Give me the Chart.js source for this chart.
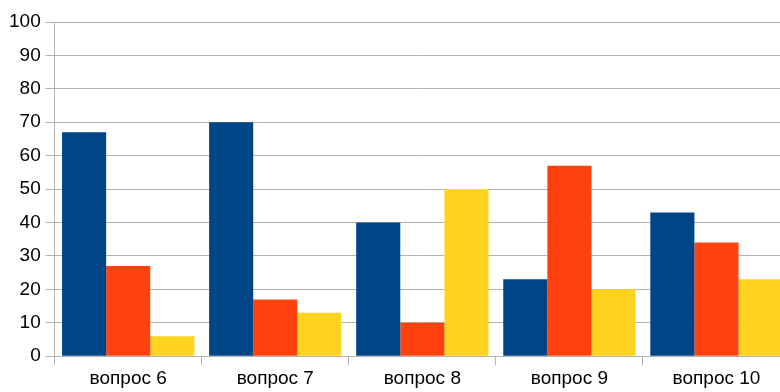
<!DOCTYPE html>
<html>
<head>
<meta charset="utf-8">
<script src="https://cdn.jsdelivr.net/npm/chart.js@4/dist/chart.umd.min.js"></script>
<style>
  html, body { margin: 0; padding: 0; overflow: hidden; background: #fff; }
  #wrap { width: 790px; height: 392px; position: relative; }
</style>
</head>
<body>
<div id="wrap"><canvas id="chart"></canvas></div>
<script>
const questions = ['вопрос 6', 'вопрос 7', 'вопрос 8', 'вопрос 9', 'вопрос 10'];
const seriesA = [67, 70, 40, 23, 43];
const seriesB = [27, 17, 10, 57, 34];
const seriesC = [6, 13, 50, 20, 23];
const colors = ['#004586', '#ff420e', '#ffd320'];

const gridColor = '#b3b3b3';
const tickFont = { family: '"Liberation Sans", Arial, sans-serif', size: 19 };

const ctx = document.getElementById('chart').getContext('2d');
new Chart(ctx, {
    type: 'bar',
    data: {
        labels: questions,
        datasets: [seriesA, seriesB, seriesC].map((d, i) => ({
            label: 'ряд ' + (i + 1),
            data: d,
            backgroundColor: colors[i],
            borderWidth: 0,
            barPercentage: 1,
            categoryPercentage: 0.9
        }))
    },
    options: {
        responsive: true,
        maintainAspectRatio: false,
        animation: false,
        layout: { padding: { top: 22, right: 0, left: 4, bottom: 0 } },
        plugins: { legend: { display: false }, tooltip: { enabled: false } },
        scales: {
            x: {
                grid: { drawOnChartArea: false, color: gridColor, tickLength: 9 },
                border: { color: gridColor },
                ticks: { padding: 2, font: tickFont, color: '#000' }
            },
            y: {
                min: 0,
                max: 100,
                ticks: { stepSize: 10, padding: 5, font: tickFont, color: '#000' },
                grid: { color: gridColor, tickLength: 9 },
                border: { color: gridColor }
            }
        }
    }
});
</script>
</body>
</html>
